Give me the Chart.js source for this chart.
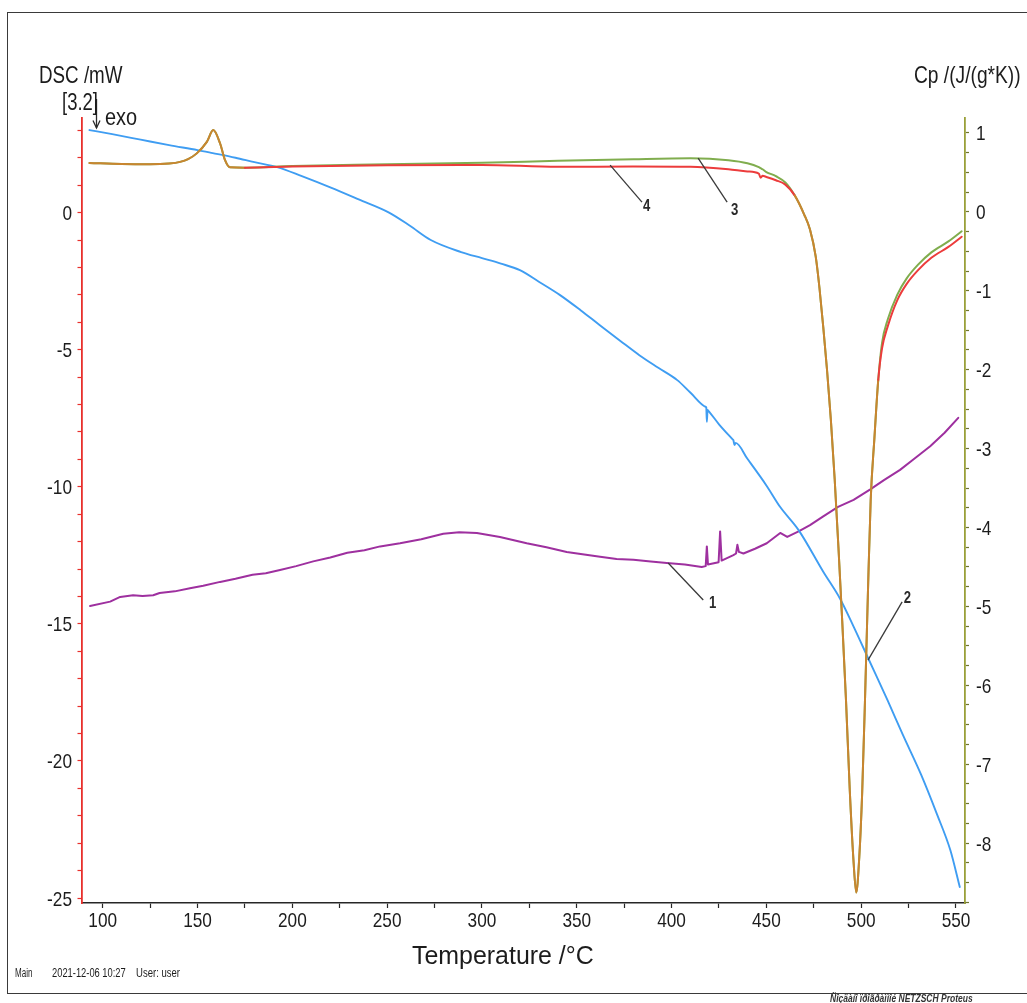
<!DOCTYPE html>
<html><head><meta charset="utf-8">
<script src="https://cdn.jsdelivr.net/npm/chart.js@4.4.1/dist/chart.umd.min.js"></script>
<style>
html,body{margin:0;padding:0;background:#fff;overflow:hidden;width:1027px;height:1003px;}
#wrap{position:relative;width:1027px;height:1003px;overflow:hidden;}
canvas{position:absolute;left:0;top:0;}
#frame{position:absolute;left:7px;top:12px;width:1060px;height:982px;border:1.5px solid #3a3a3a;box-sizing:border-box;}
.t{position:absolute;white-space:nowrap;line-height:1;transform-origin:0 0;color:#1c1c1c;}
</style></head><body>
<div id="wrap"><div id="frame"></div><canvas id="c" width="1027" height="1003"></canvas></div>
<script>
// ---------- data ----------
// Curves 3 (green) and 4 (red): DSC /mW, shared temperature grid
const tGR = [93,110,125,135,140.8,145,149.6,154.9,158.3,161.9,164.5,167.1,175,200,250,300,340,380,410,430,440,446,447,448,450,455,460,465,470,473,476,478,480,482,484,486,488,490,492,494,496,497.4,499,500.5,502,503.5,505,507,509,511,514,519,524,530,537,546,553];
const curve3 = [1.81,1.77,1.76,1.79,1.85,1.95,2.16,2.58,3.01,2.52,1.91,1.65,1.64,1.70,1.76,1.82,1.89,1.95,1.98,1.91,1.80,1.66,1.62,1.58,1.48,1.33,1.10,0.62,-0.08,-0.62,-1.60,-2.75,-4.18,-5.75,-7.55,-9.70,-12.20,-14.90,-17.80,-21.10,-23.70,-24.80,-23.50,-21.20,-17.80,-14.00,-10.50,-8.20,-6.10,-4.75,-3.90,-3.00,-2.40,-1.90,-1.45,-1.05,-0.68];
const curve4 = [1.81,1.77,1.76,1.79,1.85,1.95,2.16,2.58,3.01,2.52,1.91,1.65,1.64,1.68,1.73,1.74,1.67,1.68,1.67,1.58,1.50,1.42,1.27,1.34,1.30,1.18,1.02,0.62,-0.08,-0.62,-1.60,-2.75,-4.18,-5.75,-7.55,-9.70,-12.20,-14.90,-17.80,-21.10,-23.70,-24.80,-23.50,-21.20,-17.80,-14.00,-10.50,-8.20,-6.10,-4.95,-4.15,-3.20,-2.60,-2.10,-1.65,-1.25,-0.88];
// Curve 2 (blue): DSC /mW
const tBlue = [93,105,120,135,150,158,170,180,192,205,220,235,251,262,273,289,300,310,320,330,341,352,362,373,383,393,403,410,418.1,418.3,418.6,419,419.3,425,432.2,432.6,433.2,433.8,440,450,457.3,467,480,489,496,504,514,522,531.6,540,547,552];
const curve2 = [3.01,2.86,2.66,2.46,2.28,2.17,2.00,1.84,1.66,1.33,0.92,0.48,0.00,-0.48,-1.00,-1.44,-1.66,-1.86,-2.10,-2.52,-3.00,-3.56,-4.10,-4.68,-5.20,-5.66,-6.11,-6.57,-7.09,-7.11,-7.63,-7.20,-7.22,-7.72,-8.27,-8.30,-8.48,-8.40,-8.98,-9.95,-10.74,-11.58,-13.10,-14.10,-15.10,-16.30,-17.80,-19.05,-20.50,-21.95,-23.25,-24.60];
// Curve 1 (purple): Cp /(J/(g*K))
const tPurple = [93.3,103.9,109.2,116,121,126.6,130,138,146,153,161.9,170,179,186,193.5,202,211,220,229,238,246.3,256.8,268,279.6,288,297.3,309.5,323.6,334,344.7,353,362.3,371,379.9,389,397.5,407,415.9,418.0,418.6,419.2,424.8,425.6,426.4,432.6,434.0,434.7,435.5,437.9,444,450.2,457.3,461,467,473,480,487.8,496,504.6,512,520.5,528,536.4,544,551.2];
const curve1 = [-4.995,-4.94,-4.88,-4.86,-4.87,-4.86,-4.83,-4.81,-4.77,-4.74,-4.69,-4.65,-4.60,-4.58,-4.54,-4.49,-4.43,-4.38,-4.32,-4.29,-4.24,-4.20,-4.15,-4.08,-4.06,-4.07,-4.12,-4.20,-4.25,-4.31,-4.34,-4.37,-4.40,-4.41,-4.43,-4.45,-4.47,-4.50,-4.49,-4.24,-4.47,-4.44,-4.05,-4.42,-4.35,-4.33,-4.22,-4.31,-4.33,-4.27,-4.20,-4.07,-4.12,-4.05,-3.97,-3.86,-3.74,-3.65,-3.52,-3.40,-3.27,-3.13,-2.97,-2.80,-2.61];

// tick values
const xMajor = [100,150,200,250,300,350,400,450,500,550];
const xMinor = [125,175,225,275,325,375,425,475,525];
const dscMajor = [-25,-20,-15,-10,-5,0];
const dscMinor = [-24,-23,-22,-21,-19,-18,-17,-16,-14,-13,-12,-11,-9,-8,-7,-6,-4,-3,-2,-1,1,2,3];
const cpMajor = [-8,-7,-6,-5,-4,-3,-2,-1,0,1];
const cpMinor = [-8.75,-8.5,-8.25,-7.75,-7.5,-7.25,-6.75,-6.5,-6.25,-5.75,-5.5,-5.25,-4.75,-4.5,-4.25,-3.75,-3.5,-3.25,-2.75,-2.5,-2.25,-1.75,-1.5,-1.25,-0.75,-0.5,-0.25,0.25,0.5,0.75];

// curve label call-outs (data units of x / DSC axis)
const callouts = [
  {text:'4', from:[367.6,1.73], to:[384.4,0.38], at:[386.8,0.22]},
  {text:'3', from:[414.0,1.99], to:[429.3,0.38], at:[433.2,0.08]},
  {text:'1', from:[398.2,-12.78], to:[416.7,-14.13], at:[421.6,-14.26]},
  {text:'2', from:[503.6,-16.32], to:[521.6,-14.2], at:[524.4,-14.06]}
];

const BASE='"Liberation Sans", Arial, sans-serif';
const SX=0.82; // horizontal squeeze of the lettering in the reference
const mctx = document.createElement('canvas').getContext('2d');

function addText(str, o){
  const el=document.createElement('div'); el.className='t'; el.textContent=str;
  const style=o.style||'normal', weight=o.weight||'normal';
  el.style.font=`${style} ${weight} ${o.size}px ${BASE}`; el.style.lineHeight=o.size+'px';
  if(o.color) el.style.color=o.color;
  mctx.font=`${style} ${weight} ${o.size}px ${BASE}`;
  const m=mctx.measureText(str);
  const inkW=m.actualBoundingBoxLeft+m.actualBoundingBoxRight;
  const sx=o.right!==undefined?(o.right-o.left)/inkW:(o.sx||1);
  const A=m.fontBoundingBoxAscent, D=m.fontBoundingBoxDescent;
  const baseOff=(o.size-(A+D))/2+A;
  el.style.left=(o.left+m.actualBoundingBoxLeft*sx)+'px';
  el.style.top=(o.baseline-baseOff)+'px';
  el.style.transform=`scaleX(${sx})`;
  document.getElementById('wrap').appendChild(el);
}
addText('DSC /mW',{left:40,right:123,baseline:83,size:24});
addText('[3.2]',{left:63,right:97,baseline:110,size:23});
addText('exo',{left:106,right:137,baseline:125,size:24});
addText('Cp /(J/(g*K))',{left:915,right:1020,baseline:83,size:24});
addText('Temperature /°C',{left:412,right:593,baseline:964,size:26});
addText('Main',{left:15,right:32,baseline:977,size:12});
addText('2021-12-06 10:27',{left:52,right:126,baseline:977,size:12});
addText('User: user',{left:136,right:180,baseline:977,size:12});
addText('Ñîçäàíî ïðîãðàììîé NETZSCH Proteus',{left:830,baseline:1002,size:10,weight:'bold',style:'italic',sx:0.85,color:'#333'});

// ---------- colours ----------
const RED='#ec3c3c', GREEN='#80ad4e', BROWN='#c98530', BLUE='#3f9df2', PURPLE='#9e309f';
const AX_RED='#e8302c', AX_OLIVE='#9aa03a', AX_DARK='#262626';

const pts=(xs,ys)=>xs.map((x,i)=>({x:x,y:ys[i]}));
const same=i=>Math.abs(curve3[i]-curve4[i])<0.015;

function squeezed(c,txt,x,y,align,font){
  c.save(); c.translate(x,y); c.scale(SX,1); c.font=font; c.textAlign=align; c.fillText(txt,0,0); c.restore();
}

const decoPlugin={
  id:'deco',
  afterDatasetsDraw(chart){
    const c=chart.ctx, xs=chart.scales.x, ys=chart.scales.y;
    c.save();
    c.strokeStyle='#3a3a3a'; c.lineWidth=1.3;
    callouts.forEach(k=>{
      c.beginPath();
      c.moveTo(xs.getPixelForValue(k.from[0]),ys.getPixelForValue(k.from[1]));
      c.lineTo(xs.getPixelForValue(k.to[0]),ys.getPixelForValue(k.to[1]));
      c.stroke();
    });
    c.fillStyle='#2a2a2a'; c.textBaseline='middle';
    callouts.forEach(k=>{
      squeezed(c,k.text,xs.getPixelForValue(k.at[0]),ys.getPixelForValue(k.at[1]),'center',`bold 16px ${BASE}`);
    });
    // exo arrow
    c.strokeStyle='#2a2a2a'; c.lineWidth=1.3;
    c.beginPath(); c.moveTo(96.5,99); c.lineTo(96.5,128); c.stroke();
    c.beginPath(); c.moveTo(93,120.5); c.lineTo(96.5,128); c.lineTo(100,120.5); c.stroke();
    c.restore();
  },
  afterDraw(chart){
    // tick labels, placed from each scale's own ticks and pixel mapping
    const c=chart.ctx; c.save(); c.fillStyle='#1c1c1c'; c.textBaseline='alphabetic';
    const F=`21px ${BASE}`;
    const xs=chart.scales.x, y=chart.scales.y, y2=chart.scales.y2;
    xs.ticks.forEach(t=>{ if(xMajor.includes(t.value)) squeezed(c,String(t.value),xs.getPixelForValue(t.value),xs.top+24,'center',F); });
    y.ticks.forEach(t=>{ if(dscMajor.includes(t.value)) squeezed(c,String(t.value),y.right-9.5,y.getPixelForValue(t.value)+7.5,'right',F); });
    y2.ticks.forEach(t=>{ if(cpMajor.includes(t.value)) squeezed(c,String(t.value),y2.left+11,y2.getPixelForValue(t.value)+7.5,'left',F); });
    c.restore();
  }
};

const tickOpts={display:false,autoSkip:false};
new Chart(document.getElementById('c'),{
  type:'line',
  data:{datasets:[
    {label:'4',data:pts(tGR,curve4),yAxisID:'y',borderColor:RED,borderWidth:2,order:0,cubicInterpolationMode:'monotone',
      segment:{borderColor:ctx=>(same(ctx.p0DataIndex)&&same(ctx.p1DataIndex))?BROWN:undefined}},
    {label:'3',data:pts(tGR,curve3),yAxisID:'y',borderColor:GREEN,borderWidth:2,order:1,cubicInterpolationMode:'monotone'},
    {label:'2',data:pts(tBlue,curve2),yAxisID:'y',borderColor:BLUE,borderWidth:1.9,order:2,cubicInterpolationMode:'monotone'},
    {label:'1',data:pts(tPurple,curve1),yAxisID:'y2',borderColor:PURPLE,borderWidth:2,order:3,tension:0}
  ]},
  options:{
    responsive:false,animation:false,events:[],
    elements:{point:{radius:0},line:{borderJoinStyle:'round',borderCapStyle:'round',fill:false}},
    layout:{padding:{top:118,left:0,right:0,bottom:0}},
    plugins:{legend:{display:false},tooltip:{enabled:false},title:{display:false}},
    scales:{
      x:{type:'linear',position:'bottom',min:88.8,max:554.75,
        afterBuildTicks:s=>{s.ticks=xMajor.concat(xMinor).sort((a,b)=>a-b).map(v=>({value:v}));},
        afterFit:s=>{s.height=100;},
        ticks:tickOpts,
        grid:{drawOnChartArea:false,drawTicks:true,tickLength:5,tickColor:AX_DARK,tickWidth:1.2},
        border:{display:true,color:AX_DARK,width:1.6}},
      y:{type:'linear',position:'left',min:-25.18,max:3.45,
        afterBuildTicks:s=>{s.ticks=dscMajor.concat(dscMinor).sort((a,b)=>a-b).map(v=>({value:v}));},
        afterFit:s=>{s.width=81.5;},
        ticks:tickOpts,
        grid:{drawOnChartArea:false,drawTicks:true,tickLength:4,tickColor:AX_RED,tickWidth:1.2},
        border:{display:true,color:AX_RED,width:1.8}},
      y2:{type:'linear',position:'right',min:-8.76,max:1.19,
        afterBuildTicks:s=>{s.ticks=cpMajor.concat(cpMinor).sort((a,b)=>a-b).map(v=>({value:v}));},
        afterFit:s=>{s.width=62;},
        ticks:tickOpts,
        grid:{drawOnChartArea:false,drawTicks:true,tickLength:4,tickColor:'#6f7530',tickWidth:1.2},
        border:{display:true,color:AX_OLIVE,width:1.8}}
    }
  },
  plugins:[decoPlugin]
});
</script>
</body></html>
